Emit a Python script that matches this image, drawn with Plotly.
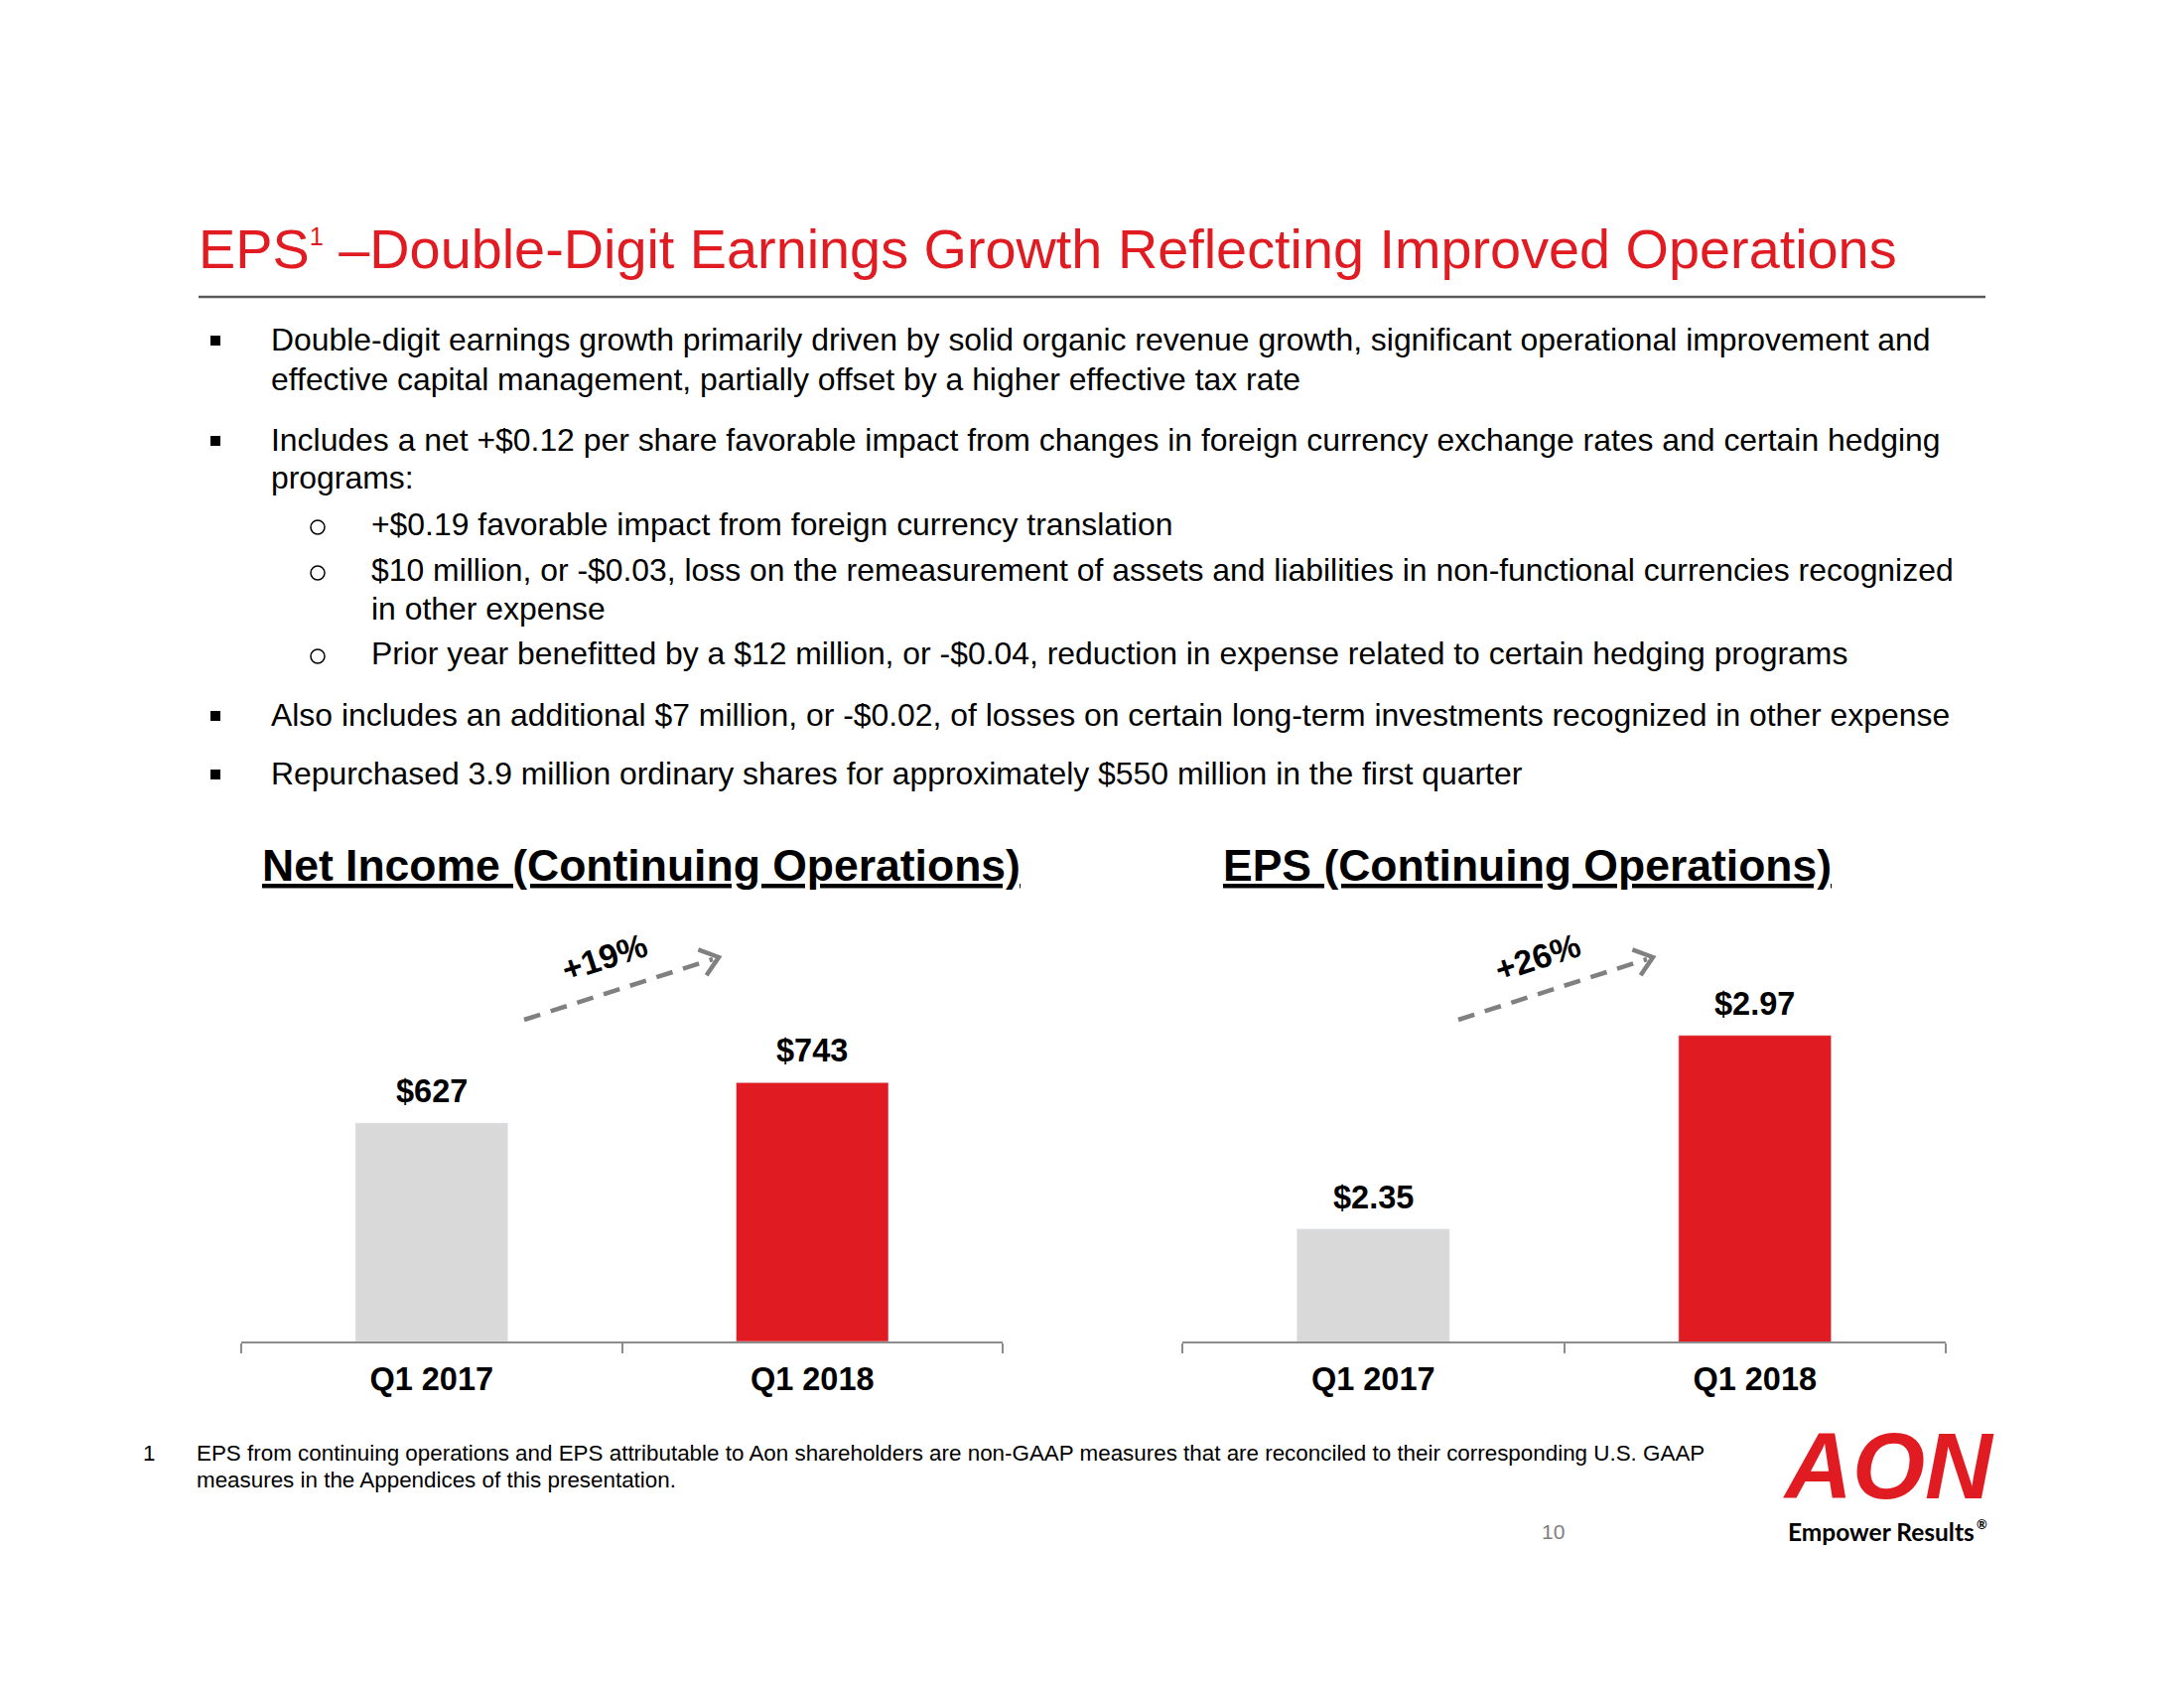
import math
import plotly.graph_objects as go

# page is drawn inside an 8px body margin, so the figure is 2192x1692
OFF = 8
W, H = 2192, 1692

# ---------------- data ----------------
categories = ["Q1 2017", "Q1 2018"]
net_income = [627, 743]
eps = [2.35, 2.97]
net_income_labels = ["$627", "$743"]
eps_labels = ["$2.35", "$2.97"]
growth_labels = ["+19%", "+26%"]
bar_colors = ["#D9D9D9", "#E11B22"]

title_text = "EPS<sup><span style='font-size:65%'>1</span></sup> –Double-Digit Earnings Growth Reflecting Improved Operations"
chart_titles = ["Net Income (Continuing Operations)", "EPS (Continuing Operations)"]

bullet_lines = [
    # (level, is_first_line_of_item, text)
    (1, True, "Double-digit earnings growth primarily driven by solid organic revenue growth, significant operational improvement and"),
    (1, False, "effective capital management, partially offset by a higher effective tax rate"),
    (1, True, "Includes a net +$0.12 per share favorable impact from changes in foreign currency exchange rates and certain hedging"),
    (1, False, "programs:"),
    (2, True, "+$0.19 favorable impact from foreign currency translation"),
    (2, True, "$10 million, or -$0.03, loss on the remeasurement of assets and liabilities in non-functional currencies recognized"),
    (2, False, "in other expense"),
    (2, True, "Prior year benefitted by a $12 million, or -$0.04, reduction in expense related to certain hedging programs"),
    (1, True, "Also includes an additional $7 million, or -$0.02, of losses on certain long-term investments recognized in other expense"),
    (1, True, "Repurchased 3.9 million ordinary shares for approximately $550 million in the first quarter"),
]
bullet_y = [342, 382, 443, 481, 528, 574, 613, 658, 720, 779]

footnote_lines = [
    "EPS from continuing operations and EPS attributable to Aon shareholders are non-GAAP measures that are reconciled to their corresponding U.S. GAAP",
    "measures in the Appendices of this presentation.",
]

FONT = "Liberation Sans, Arial, sans-serif"
RED = "#E11B22"


def X(px):
    return (px - OFF) / W


def Y(py):
    return 1 - (py - OFF) / H


fig = go.Figure()

# ---------------- bars ----------------
fig.add_trace(go.Bar(x=categories, y=net_income, marker_color=bar_colors,
                     width=0.4, xaxis="x", yaxis="y", showlegend=False,
                     hoverinfo="skip"))
fig.add_trace(go.Bar(x=categories, y=eps, marker_color=bar_colors,
                     width=0.4, xaxis="x2", yaxis="y2", showlegend=False,
                     hoverinfo="skip"))

axis_common = dict(
    type="category", showline=True, linecolor="#8C8C8C", linewidth=2,
    ticks="outside", tickson="boundaries", ticklen=10, tickwidth=2,
    tickcolor="#8C8C8C", showgrid=False, zeroline=False,
    ticklabelstandoff=8,
    tickfont=dict(family=FONT, size=32.5, color="black", weight="bold"),
    fixedrange=True,
)
yaxis_common = dict(showline=False, showgrid=False, zeroline=False,
                    showticklabels=False, ticks="", fixedrange=True)

plot_bottom, plot_top = 1351, 950

fig.update_layout(
    width=W, height=H,
    margin=dict(l=0, r=0, t=0, b=0),
    paper_bgcolor="white", plot_bgcolor="rgba(0,0,0,0)",
    xaxis=dict(domain=[X(243), X(1010)], anchor="y", **axis_common),
    yaxis=dict(domain=[Y(plot_bottom), Y(plot_top)], anchor="x",
               range=[0, 1143], **yaxis_common),
    xaxis2=dict(domain=[X(1191), X(1960)], anchor="y2", **axis_common),
    yaxis2=dict(domain=[Y(plot_bottom), Y(plot_top)], anchor="x2",
                range=[1.99, 3.265], **yaxis_common),
    bargap=0.6,
)

annotations = []
shapes = []

# value labels above bars
for xa, ya, vals, labs in (("x", "y", net_income, net_income_labels),
                           ("x2", "y2", eps, eps_labels)):
    for c, v, t in zip(categories, vals, labs):
        annotations.append(dict(
            x=c, y=v, xref=xa, yref=ya, text=t, showarrow=False,
            yanchor="middle", yshift=32,
            font=dict(family=FONT, size=32.5, color="black", weight="bold")))

# ---------------- title & rule ----------------
annotations.append(dict(
    x=X(198), y=Y(250), xref="paper", yref="paper", text=title_text,
    showarrow=False, xanchor="left", yanchor="middle",
    font=dict(family=FONT, size=55.8, color=RED)))
shapes.append(dict(type="line", xref="paper", yref="paper",
                   x0=X(200), x1=X(2000), y0=Y(299), y1=Y(299),
                   line=dict(color="#595959", width=2.5)))

# ---------------- bullets ----------------
for (lvl, first, txt), yy in zip(bullet_lines, bullet_y):
    tx = 271 if lvl == 1 else 372
    annotations.append(dict(
        x=X(tx), y=Y(yy), xref="paper", yref="paper", text=txt,
        showarrow=False, xanchor="left", yanchor="middle",
        font=dict(family=FONT, size=31.9, color="black")))
    if first:
        if lvl == 1:
            s = 5
            cx, cy = 217, yy + 1
            shapes.append(dict(type="rect", xref="paper", yref="paper",
                               x0=X(cx - s), x1=X(cx + s), y0=Y(cy - s), y1=Y(cy + s),
                               fillcolor="black", line=dict(width=0)))
        else:
            r = 7
            cx, cy = 320, yy + 3
            shapes.append(dict(type="circle", xref="paper", yref="paper",
                               x0=X(cx - r), x1=X(cx + r), y0=Y(cy - r), y1=Y(cy + r),
                               line=dict(color="black", width=1.5)))

# ---------------- chart titles ----------------
for cx, t in zip((646, 1538), chart_titles):
    annotations.append(dict(
        x=X(cx), y=Y(871), xref="paper", yref="paper", text="<u>" + t + "</u>",
        showarrow=False, xanchor="center", yanchor="middle",
        font=dict(family=FONT, size=44.5, color="black", weight="bold")))

# ---------------- growth arrows ----------------
def arrow(x0, y0, x1, y1):
    shapes.append(dict(type="line", xref="paper", yref="paper",
                       x0=X(x0), y0=Y(y0), x1=X(x1 - 6), y1=Y(y1 + 2),
                       line=dict(color="#808080", width=4.5, dash="17px,11px")))
    ang = math.atan2(y0 - y1, x0 - x1)
    L = 22
    pts = []
    for d in (+38, -38):
        a = ang + math.radians(d)
        pts.append((x1 + L * math.cos(a), y1 + L * math.sin(a)))
    path = "M {:.5f},{:.5f} L {:.5f},{:.5f} L {:.5f},{:.5f}".format(
        X(pts[0][0]), Y(pts[0][1]), X(x1), Y(y1), X(pts[1][0]), Y(pts[1][1]))
    shapes.append(dict(type="path", xref="paper", yref="paper", path=path,
                       line=dict(color="#808080", width=4.5)))


arrow(528, 1027, 724, 964)
arrow(1469, 1027, 1665, 964)

for (cx, cy), t in zip(((609, 964), (1549, 964)), growth_labels):
    annotations.append(dict(
        x=X(cx), y=Y(cy), xref="paper", yref="paper", text=t, textangle=-18,
        showarrow=False, xanchor="center", yanchor="middle",
        font=dict(family=FONT, size=34, color="black", weight="bold")))

# ---------------- footnote ----------------
annotations.append(dict(
    x=X(150), y=Y(1463), xref="paper", yref="paper", text="1",
    showarrow=False, xanchor="center", yanchor="middle",
    font=dict(family=FONT, size=22.4, color="black")))
for t, yy in zip(footnote_lines, (1463, 1490)):
    annotations.append(dict(
        x=X(196), y=Y(yy), xref="paper", yref="paper", text=t,
        showarrow=False, xanchor="left", yanchor="middle",
        font=dict(family=FONT, size=22.4, color="black")))

# page number
annotations.append(dict(
    x=X(1564), y=Y(1542), xref="paper", yref="paper", text="10",
    showarrow=False, xanchor="center", yanchor="middle",
    font=dict(family=FONT, size=21, color="#7F7F7F")))

# logo
annotations.append(dict(
    x=X(1902), y=Y(1476), xref="paper", yref="paper", text="<b><i>AON</i></b>",
    showarrow=False, xanchor="center", yanchor="middle",
    font=dict(family=FONT, size=94, color=RED)))
annotations.append(dict(
    x=X(1991), y=Y(1542), xref="paper", yref="paper", text="Empower Results",
    showarrow=False, xanchor="right", yanchor="middle",
    font=dict(family="Lato, Open Sans, sans-serif", size=24.5, color="black",
              weight="bold")))
annotations.append(dict(
    x=X(1989), y=Y(1535), xref="paper", yref="paper", text="®",
    showarrow=False, xanchor="left", yanchor="middle",
    font=dict(family="Lato, Open Sans, sans-serif", size=13, color="black",
              weight="bold")))

fig.update_layout(annotations=annotations, shapes=shapes)

fig.write_html("out.html")
